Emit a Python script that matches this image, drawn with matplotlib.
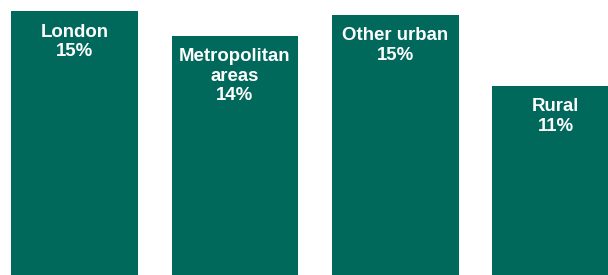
import matplotlib.pyplot as plt

areas = ["London", "Metropolitan\nareas", "Other urban", "Rural"]
shares = [15.2, 13.8, 15.0, 10.9]
share_labels = ["15%", "14%", "15%", "11%"]

bar_color = "#00695C"

fig = plt.figure(figsize=(6.08, 2.75), dpi=100)
ax = fig.add_axes([0, 0, 1, 1])

x = list(range(len(areas)))
bars = ax.bar(x, shares, width=0.79, color=bar_color)

for rect, name, lab in zip(bars, areas, share_labels):
    ax.annotate(
        f"{name}\n{lab}",
        xy=(rect.get_x() + rect.get_width() / 2, rect.get_height()),
        xytext=(0, -9),
        textcoords="offset points",
        ha="center",
        va="top",
        color="white",
        fontsize=13.4,
        fontweight="bold",
        family="Liberation Sans",
        linespacing=1.2,
    )

ax.set_xlim(-0.464, 3.325)
ax.set_ylim(0, 15.85)
ax.axis("off")

fig.savefig("out.png", dpi=100)
